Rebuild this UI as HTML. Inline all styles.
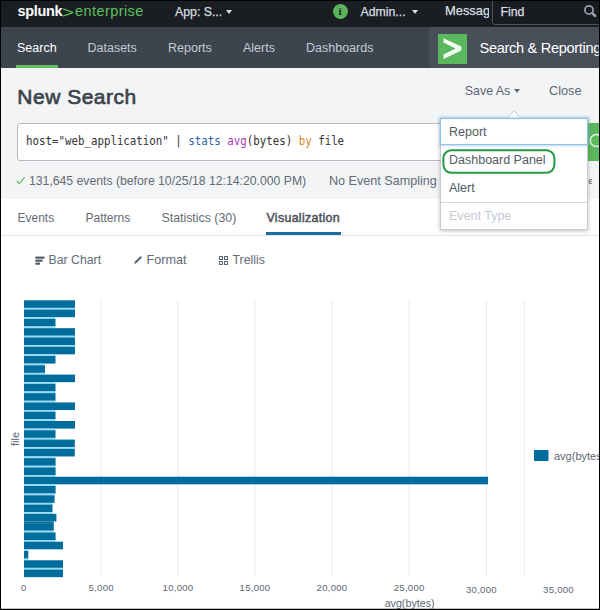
<!DOCTYPE html>
<html><head><meta charset="utf-8"><title>New Search</title>
<style>
html,body{margin:0;padding:0;}
body{width:600px;height:610px;overflow:hidden;position:relative;background:#fff;font-family:"Liberation Sans",sans-serif;color:#3c444d;}
.abs{position:absolute;white-space:nowrap;line-height:1;}
#topbar{left:0;top:0;width:600px;height:26.5px;background:#1a1e22;}
#navbar{left:0;top:26.5px;width:600px;height:41px;background:#3c444d;}
#appbox{left:429px;top:26.5px;width:171px;height:41px;background:#484f59;}
#pagehead{left:0;top:67.5px;width:600px;height:131.5px;background:#f2f4f5;}
.top{color:#d9dee3;font-size:12.3px;-webkit-text-stroke:0.25px #d9dee3;}
.nav{color:#c3cbd4;font-size:12.5px;}
.mono{font-family:"DejaVu Sans Mono","Liberation Mono",monospace;font-size:12px;color:#333;transform-origin:0 0;transform:scaleX(0.8985);}
.tab{font-size:12px;color:#626b76;}
.ax{font-family:"Liberation Sans",sans-serif;font-size:11px;fill:#5c6773;}
.axs{font-family:"Liberation Sans",sans-serif;font-size:9.6px;letter-spacing:0.25px;fill:#5c6773;}
.mi{font-size:12.5px;color:#525a64;}
#frame{left:0;top:0;width:598px;height:608px;border:solid #000;border-width:1px 1px 1px 1px;pointer-events:none;box-shadow:inset 0 -1px 0 rgba(0,0,0,0.25);}
</style></head><body>
<div class="abs" id="topbar"></div>
<div class="abs" id="navbar"></div>
<div class="abs" id="appbox"></div>
<div class="abs" id="pagehead"></div>

<!-- top bar -->
<div class="abs" id="t_logo1" style="left:17.5px;top:3.5px;font-size:14.5px;font-weight:bold;color:#fff;letter-spacing:-0.35px;">splunk</div>
<div class="abs" id="t_logo2" style="left:61.6px;top:4.2px;font-size:17px;color:#5cc05c;transform-origin:0 50%;transform:scaleX(1.2);">&gt;</div>
<div class="abs" id="t_logo3" style="left:75px;top:3.5px;font-size:14.5px;color:#5cc05c;letter-spacing:0.42px;">enterprise</div>
<div class="abs top" id="t_app" style="left:175px;top:5.5px;">App: S...</div>
<div class="abs" style="left:226.2px;top:9.5px;width:0;height:0;border-left:3.5px solid transparent;border-right:3.5px solid transparent;border-top:4.5px solid #d9dee3;"></div>
<div class="abs" style="left:332.5px;top:4px;width:15px;height:15px;border-radius:50%;background:#5cb35c;color:#1b1f24;font:bold 11px 'Liberation Serif',serif;text-align:center;line-height:15px;">i</div>
<div class="abs top" id="t_admin" style="left:360.5px;top:5.5px;">Admin...</div>
<div class="abs" style="left:411.5px;top:9.5px;width:0;height:0;border-left:3.5px solid transparent;border-right:3.5px solid transparent;border-top:4.5px solid #d9dee3;"></div>
<div class="abs top" id="t_msg" style="left:445px;top:5.3px;width:44.3px;overflow:hidden;font-size:12.9px;">Messages</div>
<div class="abs" id="findbox" style="left:491.5px;top:0;width:110px;height:25px;background:#181c20;border:1px solid #4a525c;border-radius:0 0 0 3px;box-sizing:border-box;"></div>
<div class="abs top" id="t_find" style="left:500.5px;top:5.5px;">Find</div>
<svg class="abs" style="left:580px;top:0px" width="20" height="24" viewBox="0 0 20 24"><circle cx="9" cy="9.9" r="4.1" fill="none" stroke="#9aa3ae" stroke-width="1.7"/><path d="M12.3 13.2 L15.1 16" stroke="#9aa3ae" stroke-width="2.5" stroke-linecap="round"/></svg>

<!-- nav -->
<div class="abs nav" id="n_search" style="margin-top:0.5px;left:17px;top:41px;color:#fff;">Search</div>
<div class="abs" style="left:15.5px;top:65px;width:42px;height:3px;background:#5cc05c;"></div>
<div class="abs nav" id="n_datasets" style="margin-top:0.5px;left:87.5px;top:41px;">Datasets</div>
<div class="abs nav" id="n_reports" style="margin-top:0.5px;left:168px;top:41px;">Reports</div>
<div class="abs nav" id="n_alerts" style="margin-top:0.5px;left:243px;top:41px;">Alerts</div>
<div class="abs nav" id="n_dash" style="margin-top:0.5px;left:306px;top:41px;">Dashboards</div>
<div class="abs" id="appicon" style="left:438px;top:34px;width:29px;height:29.5px;background:#5cb85c;"></div>
<svg class="abs" style="left:438px;top:34px" width="29" height="30" viewBox="0 0 29 30"><path d="M5.5 4.3 L23.3 12.6 L23.3 16.6 L5.5 24.9 L5.5 20.6 L17.6 14.6 L5.5 8.6 Z" fill="#f4fbf4"/></svg>
<div class="abs" id="n_sr" style="left:479.5px;top:41px;font-size:14.6px;letter-spacing:-0.32px;color:#fff;">Search &amp; Reporting</div>

<!-- page head -->
<div class="abs" id="h_title" style="left:17.3px;top:86.4px;font-size:21px;font-weight:normal;letter-spacing:0.5px;-webkit-text-stroke:0.7px #3c444d;color:#3c444d;">New Search</div>
<div class="abs" id="h_saveas" style="left:464.8px;top:85.2px;font-size:12.4px;color:#5c6773;">Save As</div>
<div class="abs" style="left:513.8px;top:89.3px;width:0;height:0;border-left:3.8px solid transparent;border-right:3.8px solid transparent;border-top:4.8px solid #5c6773;"></div>
<div class="abs" id="h_close" style="left:549px;top:85.2px;font-size:12.7px;color:#5c6773;">Close</div>

<div class="abs" id="sbox" style="left:17px;top:123px;width:575px;height:38px;background:#fff;border:1px solid #b6bbc1;border-radius:3px;box-sizing:border-box;"></div>
<div class="abs mono" id="s_query" style="left:26px;top:134.8px;">host="web_application" | <span style="color:#2f64a6">stats</span> <span style="color:#ab38bb">avg</span>(bytes) <span style="color:#d68828">by</span> file</div>
<div class="abs" id="sbtn" style="left:588px;top:123px;width:12px;height:38px;background:#5cb85c;"></div>
<svg class="abs" style="left:588px;top:132px" width="12" height="18" viewBox="0 0 12 18"><circle cx="8.3" cy="8.5" r="6" fill="none" stroke="#e8f5e8" stroke-width="1.5"/></svg>

<svg class="abs" style="left:16px;top:176px" width="11" height="10" viewBox="0 0 11 10"><path d="M0.8 5 L3.3 7.6 L8.8 1.2" fill="none" stroke="#6db56d" stroke-width="1.2"/></svg>
<div class="abs tab" id="st_events" style="left:29px;top:174.6px;font-size:12.23px;">131,645 events (before 10/25/18 12:14:20.000 PM)</div>
<div class="abs tab" id="st_samp" style="left:329px;top:174.6px;font-size:12.6px;">No Event Sampling</div>
<div class="abs tab" style="left:588.3px;top:176px;font-size:9.5px;color:#4a525c;width:4.2px;overflow:hidden;">e</div>

<!-- tabs -->
<div class="abs" style="left:0;top:235px;width:600px;height:1px;background:#e2e5e8;"></div>
<div class="abs tab" id="tb_events" style="left:17.5px;top:211.5px;">Events</div>
<div class="abs tab" id="tb_patterns" style="left:85.5px;top:211.5px;">Patterns</div>
<div class="abs tab" id="tb_stats" style="left:161.5px;top:211.5px;font-size:12.35px;">Statistics (30)</div>
<div class="abs tab" id="tb_viz" style="left:266.5px;top:211.5px;font-size:12.4px;letter-spacing:0.32px;-webkit-text-stroke:0.5px #4a525c;color:#4a525c;">Visualization</div>
<div class="abs" style="left:266px;top:232px;width:75px;height:3px;background:#1a6e9d;"></div>

<!-- toolbar -->
<svg class="abs" style="left:35px;top:256px" width="10" height="10" viewBox="0 0 10 10"><rect x="0.4" y="0.6" width="9" height="2.1" fill="#4f5761"/><rect x="0.4" y="3.6" width="7.2" height="2.1" fill="#4f5761"/><rect x="0.4" y="6.6" width="4.6" height="2.1" fill="#4f5761"/></svg>
<div class="abs tab" id="tl_bar" style="font-size:12.3px;left:48.5px;top:254px;">Bar Chart</div>
<svg class="abs" style="left:133px;top:255px" width="10" height="10" viewBox="0 0 10 10"><path d="M1 9 L2 6.5 L7.5 1 L9 2.5 L3.5 8 Z" fill="#5c6773"/></svg>
<div class="abs tab" id="tl_fmt" style="font-size:12.6px;left:146.5px;top:254px;">Format</div>
<svg class="abs" style="left:219px;top:256px" width="9" height="9" viewBox="0 0 9 9"><g fill="none" stroke="#5c6773" stroke-width="1"><rect x="0.5" y="0.5" width="3" height="3"/><rect x="5.5" y="0.5" width="3" height="3"/><rect x="0.5" y="5.5" width="3" height="3"/><rect x="5.5" y="5.5" width="3" height="3"/></g></svg>
<div class="abs tab" id="tl_trel" style="font-size:12.3px;left:232.5px;top:254px;">Trellis</div>

<!-- chart -->
<svg class="abs" style="left:0;top:0" width="600" height="610" viewBox="0 0 600 610">
<rect x="100.5" y="299.5" width="1" height="277" fill="#ececec"/>
<rect x="177.5" y="299.5" width="1" height="277" fill="#ececec"/>
<rect x="254.5" y="299.5" width="1" height="277" fill="#ececec"/>
<rect x="331.5" y="299.5" width="1" height="277" fill="#ececec"/>
<rect x="408.5" y="299.5" width="1" height="277" fill="#ececec"/>
<rect x="486.0" y="299.5" width="1" height="277" fill="#ececec"/>
<rect x="524.0" y="299.5" width="1" height="277" fill="#ececec"/>

<rect x="24" y="300.30" width="51.0" height="7.6" fill="#006d9c"/>
<rect x="24" y="307.90" width="51.0" height="1.69" fill="#95dcf7"/>
<rect x="24" y="309.59" width="51.0" height="7.6" fill="#006d9c"/>
<rect x="24" y="317.19" width="31.5" height="1.69" fill="#95dcf7"/>
<rect x="24" y="318.87" width="31.5" height="7.6" fill="#006d9c"/>
<rect x="24" y="326.47" width="31.5" height="1.69" fill="#95dcf7"/>
<rect x="24" y="328.16" width="51.0" height="7.6" fill="#006d9c"/>
<rect x="24" y="335.76" width="51.0" height="1.69" fill="#95dcf7"/>
<rect x="24" y="337.44" width="51.0" height="7.6" fill="#006d9c"/>
<rect x="24" y="345.04" width="51.0" height="1.69" fill="#95dcf7"/>
<rect x="24" y="346.73" width="51.0" height="7.6" fill="#006d9c"/>
<rect x="24" y="354.33" width="31.5" height="1.69" fill="#95dcf7"/>
<rect x="24" y="356.01" width="31.5" height="7.6" fill="#006d9c"/>
<rect x="24" y="363.61" width="21.0" height="1.69" fill="#95dcf7"/>
<rect x="24" y="365.30" width="21.0" height="7.6" fill="#006d9c"/>
<rect x="24" y="372.90" width="21.0" height="1.69" fill="#95dcf7"/>
<rect x="24" y="374.58" width="51.0" height="7.6" fill="#006d9c"/>
<rect x="24" y="382.18" width="31.5" height="1.69" fill="#95dcf7"/>
<rect x="24" y="383.87" width="31.5" height="7.6" fill="#006d9c"/>
<rect x="24" y="391.47" width="31.5" height="1.69" fill="#95dcf7"/>
<rect x="24" y="393.15" width="31.5" height="7.6" fill="#006d9c"/>
<rect x="24" y="400.75" width="31.5" height="1.69" fill="#95dcf7"/>
<rect x="24" y="402.44" width="51.0" height="7.6" fill="#006d9c"/>
<rect x="24" y="410.04" width="31.5" height="1.69" fill="#95dcf7"/>
<rect x="24" y="411.72" width="31.5" height="7.6" fill="#006d9c"/>
<rect x="24" y="419.32" width="31.5" height="1.69" fill="#95dcf7"/>
<rect x="24" y="421.00" width="51.0" height="7.6" fill="#006d9c"/>
<rect x="24" y="428.61" width="31.5" height="1.69" fill="#95dcf7"/>
<rect x="24" y="430.29" width="31.5" height="7.6" fill="#006d9c"/>
<rect x="24" y="437.89" width="31.5" height="1.69" fill="#95dcf7"/>
<rect x="24" y="439.58" width="50.8" height="7.6" fill="#006d9c"/>
<rect x="24" y="447.18" width="50.8" height="1.69" fill="#95dcf7"/>
<rect x="24" y="448.86" width="50.8" height="7.6" fill="#006d9c"/>
<rect x="24" y="456.46" width="31.6" height="1.69" fill="#95dcf7"/>
<rect x="24" y="458.14" width="31.6" height="7.6" fill="#006d9c"/>
<rect x="24" y="465.75" width="31.6" height="1.69" fill="#95dcf7"/>
<rect x="24" y="467.43" width="31.6" height="7.6" fill="#006d9c"/>
<rect x="24" y="475.03" width="31.6" height="1.69" fill="#95dcf7"/>
<rect x="24" y="476.72" width="464.0" height="7.6" fill="#006d9c"/>
<rect x="24" y="484.32" width="31.6" height="1.69" fill="#95dcf7"/>
<rect x="24" y="486.00" width="31.6" height="7.6" fill="#006d9c"/>
<rect x="24" y="493.60" width="30.6" height="1.69" fill="#95dcf7"/>
<rect x="24" y="495.29" width="30.6" height="7.6" fill="#006d9c"/>
<rect x="24" y="502.89" width="28.5" height="1.69" fill="#95dcf7"/>
<rect x="24" y="504.57" width="28.5" height="7.6" fill="#006d9c"/>
<rect x="24" y="512.17" width="28.5" height="1.69" fill="#95dcf7"/>
<rect x="24" y="513.86" width="32.4" height="7.6" fill="#006d9c"/>
<rect x="24" y="521.46" width="29.8" height="1.69" fill="#006d9c"/>
<rect x="24" y="523.14" width="29.8" height="7.6" fill="#006d9c"/>
<rect x="24" y="530.74" width="29.8" height="1.69" fill="#95dcf7"/>
<rect x="24" y="532.42" width="31.6" height="7.6" fill="#006d9c"/>
<rect x="24" y="540.02" width="31.6" height="1.69" fill="#95dcf7"/>
<rect x="24" y="541.71" width="39.0" height="7.6" fill="#006d9c"/>
<rect x="24" y="549.31" width="4.3" height="1.69" fill="#95dcf7"/>
<rect x="24" y="551.00" width="4.3" height="7.6" fill="#006d9c"/>
<rect x="24" y="558.60" width="4.3" height="1.69" fill="#95dcf7"/>
<rect x="24" y="560.28" width="39.0" height="7.6" fill="#006d9c"/>
<rect x="24" y="567.88" width="39.0" height="1.69" fill="#95dcf7"/>
<rect x="24" y="569.57" width="39.0" height="7.6" fill="#006d9c"/>

<text x="23.8" y="591.4" text-anchor="middle" class="axs">0</text>
<text x="101.2" y="591.4" text-anchor="middle" class="axs">5,000</text>
<text x="178" y="591.4" text-anchor="middle" class="axs">10,000</text>
<text x="255" y="591.4" text-anchor="middle" class="axs">15,000</text>
<text x="332" y="591.4" text-anchor="middle" class="axs">20,000</text>
<text x="409.2" y="591.4" text-anchor="middle" class="axs">25,000</text>
<text x="481.4" y="592.9" text-anchor="middle" class="axs">30,000</text>
<text x="558.5" y="592.9" text-anchor="middle" class="axs">35,000</text>

<text x="409.6" y="606.5" text-anchor="middle" class="ax" style="font-size:10.7px">avg(bytes)</text>
<text transform="translate(19,439) rotate(-90)" text-anchor="middle" class="ax">file</text>
<rect x="534" y="450" width="14.5" height="11" fill="#006d9c"/>
<text x="554" y="460" class="ax">avg(bytes)</text>
</svg>

<!-- dropdown -->
<div class="abs" id="dd" style="left:439.5px;top:117.5px;width:148.5px;height:112.5px;background:#fff;border:1px solid #c3cbd4;box-sizing:border-box;box-shadow:0 1px 4px rgba(0,0,0,0.25);"></div>
<svg class="abs" style="left:505.3px;top:109.6px" width="18" height="9" viewBox="0 0 18 9"><path d="M1.5 8.5 L9 1 L16.5 8.5" fill="#fff" stroke="#c3cbd4" stroke-width="1"/></svg>
<div class="abs" id="dd_focus" style="left:439.5px;top:117.5px;width:148.5px;height:27px;border:1px solid #8fc2e6;box-shadow:0 0 2px 1px rgba(125,185,230,0.55), inset 0 0 1px rgba(125,185,230,0.6);box-sizing:border-box;"></div>
<div class="abs mi" id="m_report" style="left:449px;top:125.5px;">Report</div>
<div class="abs mi" id="m_dash" style="left:449px;top:154px;">Dashboard Panel</div>
<div class="abs mi" id="m_alert" style="left:449px;top:181.5px;">Alert</div>
<div class="abs" style="left:440.5px;top:201.5px;width:146.5px;height:1px;background:#d5dade;"></div>
<div class="abs mi" id="m_evt" style="left:449px;top:209.5px;color:#c3cbd4;">Event Type</div>
<svg class="abs" style="left:440px;top:147px" width="120" height="30" viewBox="0 0 120 30"><rect x="3.4" y="3.2" width="111" height="22.6" rx="8" ry="8" fill="none" stroke="#249a44" stroke-width="2"/></svg>

<div class="abs" id="frame"></div>
</body></html>
